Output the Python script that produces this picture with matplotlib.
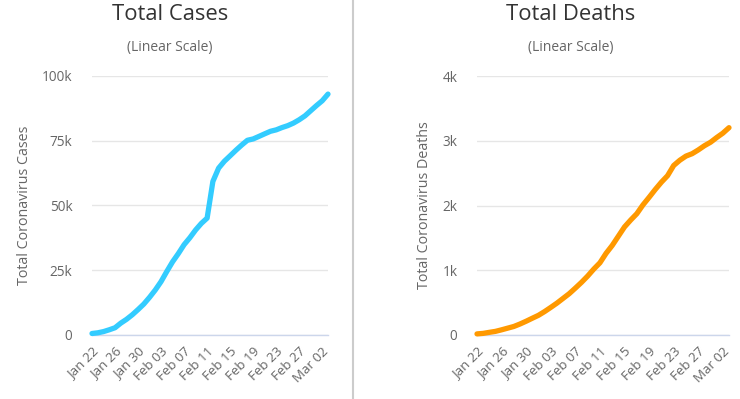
import matplotlib
matplotlib.use("Agg")
import matplotlib.pyplot as plt
from matplotlib.lines import Line2D
import datetime as dt

plt.rcParams['font.family'] = ['Open Sans', 'DejaVu Sans']

start = dt.date(2020, 1, 22)
n_days = 42
dates = [start + dt.timedelta(days=i) for i in range(n_days)]
date_labels = [d.strftime("%b %d") for d in dates]

total_cases = [580, 845, 1317, 2015, 2800, 4581, 6058, 7813, 9823, 11950,
               14553, 17391, 20630, 24545, 28266, 31439, 34876, 37552, 40553, 43099,
               45134, 59287, 64438, 67100, 69197, 71329, 73332, 75184, 75700, 76677,
               77673, 78651, 79205, 80087, 80828, 81820, 83112, 84615, 86604, 88585,
               90443, 93016]
total_deaths = [17, 25, 41, 56, 80, 106, 132, 170, 213, 259,
                304, 362, 426, 492, 565, 638, 724, 813, 910, 1018,
                1115, 1261, 1383, 1526, 1669, 1775, 1873, 2009, 2126, 2247,
                2360, 2460, 2618, 2699, 2763, 2800, 2858, 2923, 2977, 3050,
                3117, 3202]

cases_ticks = [0, 25000, 50000, 75000, 100000]
cases_tick_labels = ["0", "25k", "50k", "75k", "100k"]
deaths_ticks = [0, 1000, 2000, 3000, 4000]
deaths_tick_labels = ["0", "1k", "2k", "3k", "4k"]

W, H = 740, 399
fig = plt.figure(figsize=(W / 100, H / 100), dpi=100)

def fx(px):
    return px / W

def fy(py):
    return 1 - py / H

def make_panel(x0, x1, values, color, ticks, tick_labels, ytitle, ytitle_x):
    ax = fig.add_axes([fx(x0), fy(335), fx(x1 - x0), fy(76) - fy(335)])
    xs = list(range(len(values)))
    ax.plot(xs, values, color=color, lw=3.8, solid_capstyle='round',
            solid_joinstyle='round', zorder=3, clip_on=False)
    ax.set_xlim(0, len(values) - 1)
    ax.set_ylim(ticks[0], ticks[-1])
    ax.set_yticks(ticks)
    ax.set_yticklabels(tick_labels)
    tick_idx = list(range(0, len(values), 4))
    ax.set_xticks(tick_idx)
    ax.set_xticklabels([date_labels[i] for i in tick_idx], rotation=45,
                       ha='right', va='top', rotation_mode='anchor')
    for s in ['top', 'right', 'left']:
        ax.spines[s].set_visible(False)
    ax.spines['bottom'].set_color('#ccd6eb')
    ax.spines['bottom'].set_linewidth(1)
    ax.grid(axis='y', color='#e6e6e6', lw=1)
    ax.set_axisbelow(True)
    ax.tick_params(axis='y', length=0, pad=14, labelsize=9.8, labelcolor='#666666')
    ax.tick_params(axis='x', length=0, pad=7, labelsize=9.6, labelcolor='#666666')
    fig.text(fx(ytitle_x), fy(205), ytitle, rotation=90, ha='center', va='center',
             fontsize=10.3, color='#666666')
    return ax

make_panel(92, 328, total_cases, '#33ccff', cases_ticks, cases_tick_labels,
           "Total Coronavirus Cases", 25)
make_panel(477, 729, total_deaths, '#ff9900', deaths_ticks, deaths_tick_labels,
           "Total Coronavirus Deaths", 425)

fig.text(fx(170), fy(15), "Total Cases", ha='center', va='center', fontsize=15.8, color='#333333')
fig.text(fx(170), fy(48), "(Linear Scale)", ha='center', va='center', fontsize=10, color='#666666')
fig.text(fx(571), fy(15), "Total Deaths", ha='center', va='center', fontsize=15.8, color='#333333')
fig.text(fx(571), fy(48), "(Linear Scale)", ha='center', va='center', fontsize=10, color='#666666')

fig.add_artist(Line2D([fx(353), fx(353)], [0, 1], color='#cccccc', lw=1.5,
                      transform=fig.transFigure))

fig.savefig("out.png", dpi=100)
